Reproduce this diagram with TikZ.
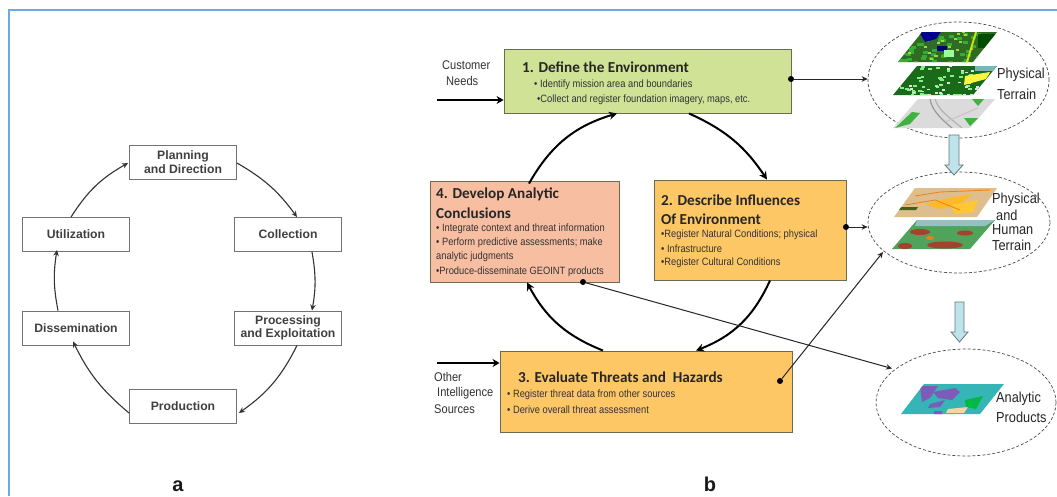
\documentclass[tikz,border=0pt]{standalone}
\usepackage{fontspec}
\setmainfont{Liberation Sans}
\newfontfamily\carl{Carlito}
\newfontfamily\narrowf[FakeStretch=0.88]{Liberation Sans}
\usetikzlibrary{arrows.meta,shapes.geometric,calc}
\definecolor{frameblue}{HTML}{6FA8E4}
\definecolor{greenbox}{HTML}{CFE295}
\definecolor{orangebox}{HTML}{FDC766}
\definecolor{salmonbox}{HTML}{F8BEA2}
\definecolor{boxedge}{HTML}{6B6B50}
\definecolor{blockfill}{HTML}{BFE3EA}
\definecolor{blockedge}{HTML}{66777A}
\definecolor{mapdark}{HTML}{2F6B22}
\definecolor{maptan}{HTML}{DDBE8C}
\definecolor{mapteal}{HTML}{35B5B5}
\definecolor{mappurple}{HTML}{7C5CB8}
\definecolor{mapgreen}{HTML}{4FA35A}
\definecolor{mapred}{HTML}{A8402E}
\tikzset{
  x=1pt,y=-1pt,
  grayb/.style={draw=black!55,line width=0.9pt,fill=white,font=\bfseries\fontsize{12.2}{13.5}\selectfont,text=black!75,align=center,inner sep=0pt,minimum width=107pt,minimum height=34pt},
  thin arrow/.style={draw=black!80,line width=1.1pt,-{Stealth[length=6pt,width=5.5pt]}},
  thick arrow/.style={draw=black,line width=2pt,-{Stealth[length=8pt,width=8pt]}},
  dotline/.style={draw=black!85,line width=1pt,-{Stealth[length=6pt,width=5.5pt]}},
  bluebox/.style={draw=boxedge,line width=0.9pt,inner sep=0pt},
  dotnode/.style={circle,fill=black,inner sep=0pt,minimum size=6pt},
  ttl/.style={anchor=west,inner sep=0pt,font=\carl\bfseries\fontsize{15.2}{16}\selectfont,text=black!85},
  bul/.style={anchor=west,inner sep=0pt,font=\narrowf\fontsize{10.6}{11}\selectfont,text=black!80},
  lab/.style={anchor=west,inner sep=0pt,font=\narrowf\fontsize{12.6}{13}\selectfont,text=black!80},
  plab/.style={anchor=west,inner sep=0pt,font=\narrowf\fontsize{14.5}{15}\selectfont,text=black!85},
  ell/.style={ellipse,draw=black!70,densely dashed,line width=0.7pt,inner sep=0pt},
  block/.style={draw=blockedge,fill=blockfill,line width=0.8pt},
  tag/.style={anchor=base,inner sep=0pt,font=\bfseries\fontsize{20}{22}\selectfont,text=black!90},
}
\begin{document}
\begin{tikzpicture}
\useasboundingbox (0,0) rectangle (1057,496);
\fill[white] (0,0) rectangle (1057,496);
\draw[frameblue,line width=1.6pt] (9,496) -- (9,10) -- (1057,10);
% panel a
\node[grayb] (plan) at (183,162) {Planning\\and Direction};
\node[grayb] (coll) at (288,234.5) {Collection};
\node[grayb] (proc) at (288,328) {Processing\\and Exploitation};
\node[grayb] (prod) at (183,406) {Production};
\node[grayb] (diss) at (76,328) {Dissemination};
\node[grayb] (util) at (76,234.5) {Utilization};
\draw[thin arrow] ([yshift=-1pt]plan.east) to[bend left=12] ([xshift=9pt]coll.north);
\draw[thin arrow] ([xshift=24pt]coll.south) to[bend left=10] ([xshift=24pt]proc.north);
\draw[thin arrow] ([xshift=9pt]proc.south) to[bend left=14] ([xshift=2pt,yshift=-7pt]prod.east);
\draw[thin arrow] ([yshift=-7pt]prod.west) to[bend left=12] ([xshift=-3pt,yshift=4pt]diss.south);
\draw[thin arrow] ([xshift=-18pt]diss.north) to[bend left=10] ([xshift=-19pt,yshift=2pt]util.south);
\draw[thin arrow] ([xshift=-5pt]util.north) to[bend left=14] ([xshift=-1pt,yshift=-1pt]plan.west);
\node[tag] (ta) at (178,491.500) {a};
\node[tag] (tb) at (710,491.500) {b};
% panel b boxes
\node[bluebox,fill=greenbox,minimum width=287pt,minimum height=64pt] (b1) at (647.5,81) {};
\node[bluebox,fill=salmonbox,minimum width=189pt,minimum height=101pt] (b4) at (524.5,231.5) {};
\node[bluebox,fill=orangebox,minimum width=192pt,minimum height=100pt] (b2) at (750,230) {};
\node[bluebox,fill=orangebox,minimum width=292pt,minimum height=81pt] (b3) at (646,391.5) {};
% box text
\node[ttl] (t1) at (522,67) {1. Define the Environment};
\node[bul] (t1a) at (534,85) {• Identify mission area and boundaries};
\node[bul] (t1b) at (537,100) {•Collect and register foundation imagery, maps, etc.};
\node[ttl] (t4) at (436,194) {4. Develop Analytic};
\node[ttl] (t4x) at (436,213) {Conclusions};
\node[bul] (t4a) at (436,229) {• Integrate context and threat information};
\node[bul] (t4b) at (436,243) {• Perform predictive assessments; make};
\node[bul] (t4c) at (436,257) {analytic judgments};
\node[bul] (t4d) at (436,271.500) {•Produce-disseminate GEOINT products};
\node[ttl] (t2) at (661,200) {2. Describe Influences};
\node[ttl] (t2x) at (661,219) {Of Environment};
\node[bul] (t2a) at (661,235) {•Register Natural Conditions; physical};
\node[bul] (t2b) at (661,249) {• Infrastructure};
\node[bul] (t2c) at (661,263) {•Register Cultural Conditions};
\node[ttl] (t3) at (518,377) {3. Evaluate Threats and \ Hazards};
\node[bul] (t3a) at (507,395) {• Register threat data from other sources};
\node[bul] (t3b) at (507,409.500) {• Derive overall threat assessment};
% outside labels
\node[lab] (l1) at (442,65) {Customer};
\node[lab] (l2) at (446,81) {Needs};
\node[lab] (l3) at (434,377) {Other};
\node[lab] (l4) at (437,393) {Intelligence};
\node[lab] (l5) at (434,409) {Sources};
% thick arrows
\coordinate (cn) at (437,100);
\coordinate (oi) at (437,363);
\draw[draw=black,line width=2pt,-{Stealth[length=7pt,width=8pt]}] (cn) -- (b1.west |- cn);
\draw[draw=black,line width=2pt,-{Stealth[length=7pt,width=8pt]}] (oi) -- (b3.west |- oi);
\draw[thick arrow] ([xshift=41.5pt]b1.south) to[bend left=16] ([xshift=17pt]b2.north);
\draw[thick arrow] ([xshift=20pt]b2.south) to[bend left=22] ([xshift=50pt]b3.north);
\draw[thick arrow] ([xshift=-43pt]b3.north) to[bend left=20] ([xshift=2.5pt]b4.south);
\draw[thick arrow] ([xshift=4.5pt,yshift=-3pt]b4.north) to[bend left=22] ([xshift=-30.5pt]b1.south);
% ellipses
\node[ell,minimum width=181pt,minimum height=116pt] (e1) at (958.5,80) {};
\node[ell,minimum width=182pt,minimum height=101pt] (e2) at (959,222.5) {};
\node[ell,minimum width=180pt,minimum height=107pt] (e3) at (966,402.5) {};
\pgfmathsetseed{7}
% map 1
\begin{scope}
\clip (898,62) -- (922,32) -- (997,32) -- (973,62) -- cycle;
\fill[mapdark] (890,30) rectangle (1000,64);
\foreach \i in {1,...,60} {
  \pgfmathsetmacro{\px}{895+rnd*105}
  \pgfmathsetmacro{\py}{31+rnd*31}
  \fill[green!60!black!80] (\px,\py) rectangle +(5,3);
}
\foreach \i in {1,...,25} {
  \pgfmathsetmacro{\px}{895+rnd*105}
  \pgfmathsetmacro{\py}{31+rnd*31}
  \fill[yellow!55!green!85] (\px,\py) rectangle +(3,2);
}
\fill[blue!55!black] (918,30) -- (942,30) -- (936,39) -- (925,42) -- cycle;
\fill[blue!45!black] (937,46) rectangle (947,51);
\fill[green!40!white] (944,50) rectangle (954,57);
\fill[yellow!80!green] (975,32) -- (977,32) -- (968,62) -- (966,62) -- cycle;
\fill[green!30!black] (978,34) rectangle (1000,48);
\end{scope}
% map 2
\begin{scope}
\clip (893,95) -- (917,66) -- (997,66) -- (973,95) -- cycle;
\fill[black!60!green!80!gray] (890,64) rectangle (1000,97);
\foreach \i in {1,...,70} {
  \pgfmathsetmacro{\px}{892+rnd*105}
  \pgfmathsetmacro{\py}{65+rnd*30}
  \fill[green!45!white!85!gray] (\px,\py) rectangle +(3.5,2);
}
\foreach \i in {1,...,30} {
  \pgfmathsetmacro{\px}{892+rnd*105}
  \pgfmathsetmacro{\py}{65+rnd*30}
  \fill[white!75!gray] (\px,\py) rectangle +(3,1.5);
}
\fill[yellow!75!white] (965,76) -- (990,72) -- (986,79) -- (964,85) -- cycle;
\fill[teal!55!white] (975,66) rectangle (997,71);
\end{scope}
% map 3
\begin{scope}
\clip (893,128) -- (918,99) -- (995,99) -- (970,128) -- cycle;
\fill[black!14] (890,97) rectangle (1000,130);
\draw[black!40,line width=1.2pt] (930,99) .. controls (932,112) and (945,122) .. (952,128);
\draw[black!30,line width=1.2pt] (935,99) .. controls (938,110) and (950,118) .. (962,128);
\draw[red!25!black!25,line width=1pt] (945,122) -- (978,108);
\fill[green!60!black!75] (895,128) -- (912,112) -- (920,113) -- (910,124) -- cycle;
\fill[green!60!black!75] (972,99) -- (984,99) -- (978,106) -- cycle;
\fill[green!60!black!75] (964,118) -- (978,118) -- (970,126) -- cycle;
\end{scope}
% map 4
\begin{scope}
\clip (894,217) -- (915,188) -- (997,188) -- (977,217) -- cycle;
\fill[maptan] (890,186) rectangle (1000,219);
\fill[orange!65!yellow!85] (925,204) -- (950,198) -- (972,194) -- (960,204) -- (940,209) -- cycle;
\fill[orange!55!yellow!80] (950,205) -- (978,200) -- (973,212) -- (955,214) -- cycle;
\fill[black!55!brown!80!green] (898,207) -- (918,207) -- (916,210) -- (896,210) -- cycle;
\draw[orange!70!brown,line width=0.8pt] (915,196) -- (940,192) -- (990,190);
\draw[orange!70!brown,line width=0.8pt] (905,205) -- (935,200) -- (960,210);
\end{scope}
% map 5
\begin{scope}
\clip (892,249) -- (917,220) -- (995,220) -- (970,249) -- cycle;
\fill[mapgreen] (890,218) rectangle (1000,251);
\fill[teal!40!white!85!gray] (917,220) -- (995,220) -- (985,226) -- (915,226) -- cycle;
\fill[mapred] (920,232) ellipse[x radius=10pt,y radius=3pt];
\fill[mapred] (945,245) ellipse[x radius=18pt,y radius=3.5pt];
\fill[mapred] (965,233) ellipse[x radius=8pt,y radius=2.5pt];
\fill[mapred] (905,246) ellipse[x radius=7pt,y radius=3pt];
\fill[orange!70!brown] (930,238) ellipse[x radius=4pt,y radius=2pt];
\end{scope}
% map 6
\begin{scope}
\clip (901,414) -- (924,384) -- (1004,384) -- (980,414) -- cycle;
\fill[mapteal] (898,382) rectangle (1006,416);
\fill[mappurple] (920,386) -- (938,386) -- (930,398) -- (922,402) -- cycle;
\fill[mappurple] (933,392) -- (955,388) -- (960,392) -- (952,400) -- (938,398) -- cycle;
\fill[mappurple] (930,404) -- (945,400) -- (940,407) -- (928,408) -- cycle;
\fill[mappurple] (934,411) rectangle (942,416);
\fill[orange!35!white] (948,409) -- (968,407) -- (964,413) -- (946,413) -- cycle;
\fill[green!45!teal] (965,400) -- (983,396) -- (976,409) -- (966,407) -- cycle;
\end{scope}
% ellipse labels
\node[plab] (p1) at (997,75) {Physical};
\node[plab] (p2) at (997,94) {Terrain};
\node[plab] (p3) at (992,200) {Physical};
\node[plab] (p4) at (996,215) {and};
\node[plab] (p5) at (992,230) {Human};
\node[plab] (p6) at (992,245) {Terrain};
\node[plab] (p7) at (996,399) {Analytic};
\node[plab] (p8) at (996,417) {Products};
% dot connectors
\node[dotnode] (d1) at (791,79) {};
\node[dotnode] (d2) at (846,227) {};
\node[dotnode] (d3) at (780,381) {};
\node[dotnode] (d4) at (583,282) {};
\draw[dotline] (d1) -- (e1.west |- d1);
\draw[dotline] (d2) -- (e2.west |- d2);
\coordinate (h3) at (883,252);
\coordinate (h4) at (892,368.500);
\draw[dotline] (d3) -- (h3);
\draw[dotline] (d4) -- (h4);
% block arrows
\coordinate (a1) at (954,135);
\coordinate (a2) at (959.500,302);
\draw[block] ($(a1)+(-5,0)$) -- ++(0,30) -- ++(-4,0) -- ($(a1)+(0,40)$) -- ($(a1)+(9,30)$) -- ++(-4,0) -- ($(a1)+(5,0)$) -- cycle;
\draw[block] ($(a2)+(-4.5,0)$) -- ++(0,30) -- ++(-4,0) -- ($(a2)+(0,40)$) -- ($(a2)+(8.5,30)$) -- ++(-4,0) -- ($(a2)+(4.5,0)$) -- cycle;
\end{tikzpicture}
\end{document}
